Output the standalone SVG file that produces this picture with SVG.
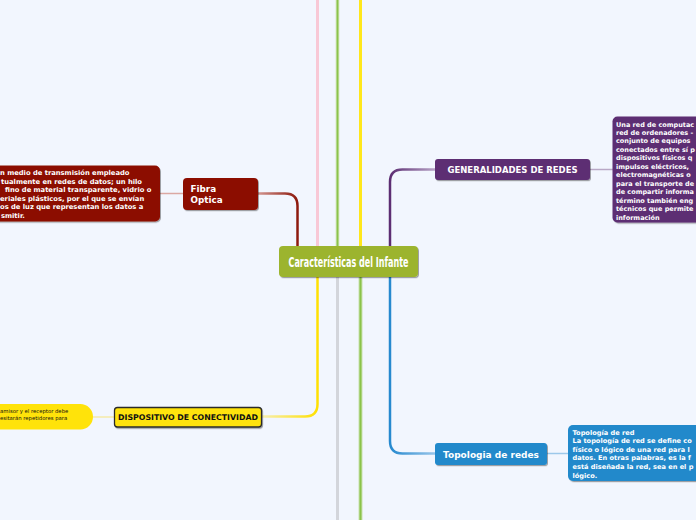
<svg xmlns="http://www.w3.org/2000/svg" width="696" height="520" viewBox="0 0 696 520">
<defs>
<style>
.b{font-family:"DejaVu Sans",Verdana,sans-serif;font-weight:bold}
.w{fill:#ffffff}
.k{fill:#111111}
.lbl{font-size:8.5px;text-anchor:middle}
.d1{font-size:6.75px}
.d2{font-size:6.5px}
.d3{font-size:6.6px}
.d4{font-size:5.3px;font-weight:normal}
.ctr{font-family:"DejaVu Sans Condensed","DejaVu Sans",sans-serif;font-weight:bold;font-size:14px;fill:#ffffff;text-anchor:middle}
</style>
<filter id="sh" x="-10%" y="-20%" width="120%" height="150%">
<feDropShadow dx="1" dy="1.2" stdDeviation="0.7" flood-color="#000" flood-opacity="0.35"/>
</filter>
<linearGradient id="gRed" gradientUnits="userSpaceOnUse" x1="257" y1="0" x2="297" y2="0">
<stop offset="0" stop-color="#d49893"/><stop offset="1" stop-color="#8e1a0e"/>
</linearGradient>
<linearGradient id="gPur" gradientUnits="userSpaceOnUse" x1="436" y1="0" x2="390" y2="0">
<stop offset="0" stop-color="#b9a5c8"/><stop offset="1" stop-color="#5c2d72"/>
</linearGradient>
<linearGradient id="gYel" gradientUnits="userSpaceOnUse" x1="262" y1="0" x2="318" y2="0">
<stop offset="0" stop-color="#f7eeb0"/><stop offset="1" stop-color="#ffe000"/>
</linearGradient>
<linearGradient id="gBlu" gradientUnits="userSpaceOnUse" x1="436" y1="0" x2="390" y2="0">
<stop offset="0" stop-color="#9ac6ea"/><stop offset="1" stop-color="#2689cf"/>
</linearGradient>
</defs>
<rect width="696" height="520" fill="#f2f6fe"/>

<g id="connectors" fill="none" stroke-linecap="butt">
<line x1="317.5" y1="0" x2="317.5" y2="246" stroke="#f8c8d6" stroke-width="3"/>
<line x1="337.5" y1="0" x2="337.5" y2="246" stroke="#dbe9c9" stroke-width="4"/>
<line x1="337.5" y1="0" x2="337.5" y2="246" stroke="#8bc34a" stroke-width="2"/>
<line x1="360.5" y1="0" x2="360.5" y2="246" stroke="#ffe71c" stroke-width="3"/>
<line x1="337.5" y1="277" x2="337.5" y2="520" stroke="#d3d5db" stroke-width="3"/>
<line x1="360.5" y1="277" x2="360.5" y2="520" stroke="#c9e2ad" stroke-width="4"/>
<line x1="360.5" y1="277" x2="360.5" y2="520" stroke="#8bc34a" stroke-width="2"/>
<path d="M297.5 246 V206 Q297.5 193.5 285 193.5 H257" stroke="url(#gRed)" stroke-width="2.5"/>
<path d="M390 246 V182 Q390 169.5 402.5 169.5 H436" stroke="url(#gPur)" stroke-width="2.5"/>
<path d="M317.5 277 V404 Q317.5 416.5 305 416.5 H262" stroke="url(#gYel)" stroke-width="2.5"/>
<path d="M390 277 V441 Q390 453.5 402.5 453.5 H436" stroke="url(#gBlu)" stroke-width="2.5"/>
<line x1="160" y1="193.5" x2="183" y2="193.5" stroke="#dba8a3" stroke-width="1.5"/>
<line x1="590" y1="169.5" x2="613" y2="169.5" stroke="#b9a8c6" stroke-width="1.5"/>
<line x1="93" y1="417" x2="114" y2="417" stroke="#f5eaa8" stroke-width="1.5"/>
<line x1="547" y1="453.5" x2="568" y2="453.5" stroke="#9dc8ea" stroke-width="1.5"/>
</g>

<g id="central">
<rect x="279" y="246" width="139" height="31" rx="4" fill="#9cb42f" filter="url(#sh)"/>
<text class="ctr" x="348.5" y="266.5" textLength="120" lengthAdjust="spacingAndGlyphs">Características del Infante</text>
</g>

<g id="fibra-optica">
<rect x="183" y="178" width="75" height="32" rx="4" fill="#8c1104" filter="url(#sh)"/>
<text class="b w" x="190.5" y="192" font-size="8.8">Fibra</text>
<text class="b w" x="190.5" y="203" font-size="8.8">Optica</text>
</g>

<g id="fibra-desc">
<rect x="-10" y="165.5" width="170" height="56" rx="5" fill="#8c1104" filter="url(#sh)"/>
<text class="b w d1" x="0" y="175">n medio de transmisión empleado</text>
<text class="b w d1" x="1" y="183.5">tualmente en redes de datos; un hilo</text>
<text class="b w d1" x="5" y="192">fino de material transparente, vidrio o</text>
<text class="b w d1" x="0" y="200.5">eriales plásticos, por el que se envían</text>
<text class="b w d1" x="0" y="209">os de luz que representan los datos a</text>
<text class="b w d1" x="1" y="217.5">smitir.</text>
</g>

<g id="generalidades">
<rect x="435" y="159" width="155" height="21" rx="3" fill="#5d2d73" filter="url(#sh)"/>
<text class="b w lbl" x="512.5" y="172.5">GENERALIDADES DE REDES</text>
</g>

<g id="generalidades-desc">
<rect x="612.5" y="116.5" width="100" height="106" rx="5" fill="#5d2d73" filter="url(#sh)"/>
<text class="b w d2" x="616" y="126.5">Una red de computac</text>
<text class="b w d2" x="616" y="135">red de ordenadores -</text>
<text class="b w d2" x="616" y="143.4">conjunto de equipos</text>
<text class="b w d2" x="616" y="151.9">conectados entre sí p</text>
<text class="b w d2" x="616" y="160.3">dispositivos físicos q</text>
<text class="b w d2" x="616" y="168.8">impulsos eléctricos,</text>
<text class="b w d2" x="616" y="177.2">electromagnéticas o</text>
<text class="b w d2" x="616" y="185.7">para el transporte de</text>
<text class="b w d2" x="616" y="194.1">de compartir informa</text>
<text class="b w d2" x="616" y="202.6">término también eng</text>
<text class="b w d2" x="616" y="211">técnicos que permite</text>
<text class="b w d2" x="616" y="219.5">información</text>
</g>

<g id="dispositivo">
<rect x="114.5" y="407.5" width="147" height="19.5" rx="3" fill="#ffe30a" stroke="#2b2b2b" stroke-width="1.3" filter="url(#sh)"/>
<text class="b k" x="188" y="420" font-size="7.8" text-anchor="middle">DISPOSITIVO DE CONECTIVIDAD</text>
</g>

<g id="dispositivo-desc">
<rect x="-20" y="404" width="113" height="25.5" rx="12.7" fill="#ffe30a"/>
<text class="b k d4" x="0" y="413">amisor y el receptor debe</text>
<text class="b k d4" x="0" y="420">esitarán repetidores para</text>
</g>

<g id="topologia">
<rect x="435" y="443" width="112" height="22" rx="3" fill="#2089cb" filter="url(#sh)"/>
<text class="b w" x="491" y="457.5" font-size="9" text-anchor="middle">Topologia de redes</text>
</g>

<g id="topologia-desc">
<rect x="568" y="425" width="140" height="56" rx="5" fill="#2089cb" filter="url(#sh)"/>
<text class="b w d3" x="572.5" y="434.5">Topología de red</text>
<text class="b w d3" x="572.5" y="443.1">La topología de red se define co</text>
<text class="b w d3" x="572.5" y="451.7">físico o lógico de una red para l</text>
<text class="b w d3" x="572.5" y="460.3">datos. En otras palabras, es la f</text>
<text class="b w d3" x="572.5" y="468.9">está diseñada la red, sea en el p</text>
<text class="b w d3" x="572.5" y="477.5">lógico.</text>
</g>
</svg>
